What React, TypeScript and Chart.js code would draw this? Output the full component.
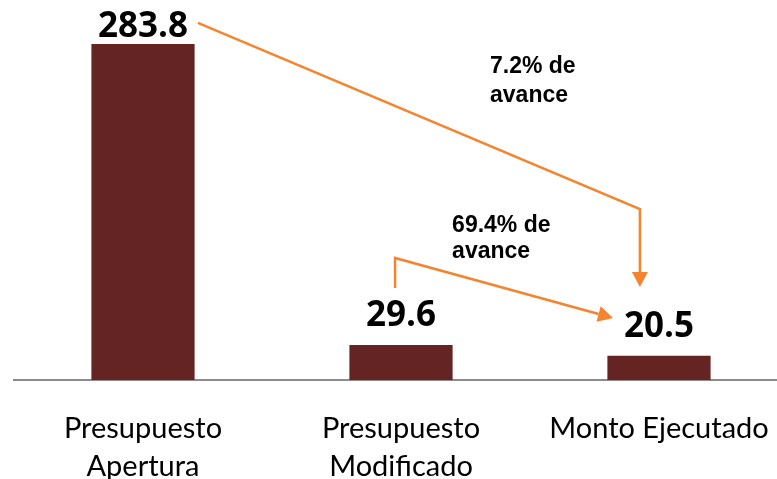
import { useEffect, useRef } from 'react';
import { Chart, registerables } from 'chart.js';

Chart.register(...registerables);

// ---- data ----
const categories: (string | string[])[] = [
  ['Presupuesto', 'Apertura'],
  ['Presupuesto', 'Modificado'],
  'Monto Ejecutado',
];
const values = [283.8, 29.6, 20.5];
const yMax = 321;

// ---- annotations (in data units: x = category index, y = value) ----
const noteTexts = [
  ['7.2% de', 'avance'],
  ['69.4% de', 'avance'],
];
const noteAnchors = [
  { x: 1.345, ys: [259.3, 234.8] },
  { x: 1.198, ys: [125.0, 103.1] },
];
const arrowPaths = [
  [[0.213, 301.6], [1.926, 144.4], [1.926, 78.6]],
  [[0.977, 77.7], [0.977, 103.1], [1.822, 52.4]],
];

const BAR = '#632423';
const ORANGE = '#F4842F';

const overlay = {
  id: 'overlay',
  afterDatasetsDraw(chart: any) {
    const { ctx, chartArea } = chart;
    const xs = chart.scales.x;
    const ys = chart.scales.y;
    const meta = chart.getDatasetMeta(0);
    ctx.save();
    // value labels
    ctx.font = 'bold 35px "Open Sans"';
    ctx.fillStyle = '#000';
    ctx.textAlign = 'center';
    ctx.textBaseline = 'alphabetic';
    meta.data.forEach((bar: any, i: number) => {
      const y = Math.max(bar.y - 19, chartArea.top + 37);
      ctx.fillText(values[i].toFixed(1), bar.x, y);
    });
    // notes
    ctx.font = 'bold 23px "Liberation Sans"';
    ctx.textAlign = 'left';
    noteTexts.forEach((lines, i) => {
      const a = noteAnchors[i];
      lines.forEach((t, j) => {
        ctx.fillText(t, xs.getPixelForValue(a.x), ys.getPixelForValue(a.ys[j]));
      });
    });
    // arrows
    ctx.strokeStyle = ORANGE;
    ctx.fillStyle = ORANGE;
    ctx.lineWidth = 2.5;
    ctx.lineJoin = 'miter';
    arrowPaths.forEach((path) => {
      const pts = path.map(([vx, vy]) => [xs.getPixelForValue(vx), ys.getPixelForValue(vy)]);
      const n = pts.length;
      const [tx, ty] = pts[n - 1];
      const [px, py] = pts[n - 2];
      const ang = Math.atan2(ty - py, tx - px);
      const len = 15;
      const hw = 8;
      const bx = tx - len * Math.cos(ang);
      const by = ty - len * Math.sin(ang);
      ctx.beginPath();
      ctx.moveTo(pts[0][0], pts[0][1]);
      for (let k = 1; k < n - 1; k++) ctx.lineTo(pts[k][0], pts[k][1]);
      ctx.lineTo(bx, by);
      ctx.stroke();
      ctx.beginPath();
      ctx.moveTo(tx, ty);
      ctx.lineTo(bx + hw * Math.sin(ang), by - hw * Math.cos(ang));
      ctx.lineTo(bx - hw * Math.sin(ang), by + hw * Math.cos(ang));
      ctx.closePath();
      ctx.fill();
    });
    ctx.restore();
  },
};

export default function App() {
  const ref = useRef<HTMLCanvasElement>(null);
  useEffect(() => {
    document.body.style.margin = '0';
    document.body.style.overflow = 'hidden';
    const chart = new Chart(ref.current!, {
      type: 'bar',
      data: {
        labels: categories as any,
        datasets: [
          {
            data: values,
            backgroundColor: BAR,
            borderWidth: 0,
            barPercentage: 0.4,
            categoryPercentage: 1,
          },
        ],
      },
      options: {
        animation: false,
        responsive: true,
        maintainAspectRatio: false,
        layout: { padding: { left: 14, right: 2, top: 0, bottom: 0 } },
        plugins: { legend: { display: false }, tooltip: { enabled: false } },
        scales: {
          x: {
            grid: { display: false, drawTicks: false },
            border: { display: true, color: '#8c8c8c', width: 2 },
            ticks: {
              color: '#000',
              padding: 30,
              maxRotation: 0,
              autoSkip: false,
              font: { family: 'Lato', size: 29, lineHeight: 1.31 },
            },
            afterFit: (scale: any) => {
              scale.height = 99;
              scale.paddingLeft = 0;
              scale.paddingRight = 0;
            },
          },
          y: {
            display: false,
            min: 0,
            max: yMax,
          },
        },
      },
      plugins: [overlay],
    });
    return () => chart.destroy();
  }, []);
  return (
    <div style={{ position: 'fixed', left: 0, top: 0, width: 790, height: 479 }}>
      <canvas ref={ref} />
    </div>
  );
}
